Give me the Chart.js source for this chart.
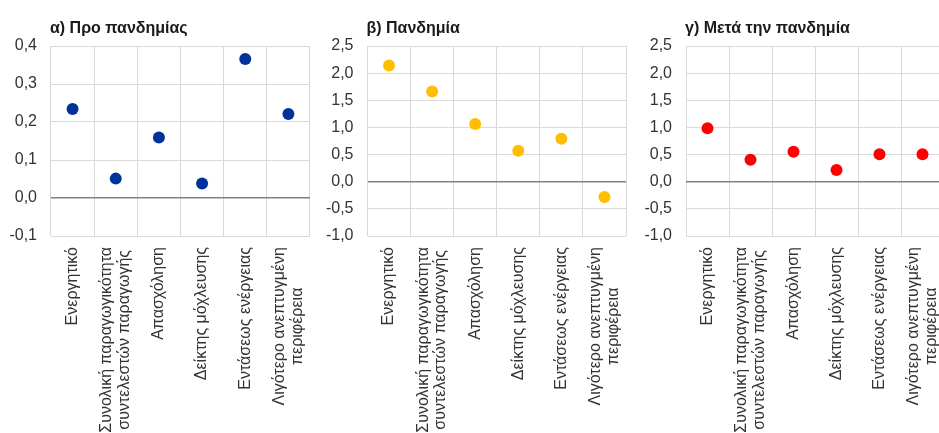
<!DOCTYPE html>
<html>
<head>
<meta charset="utf-8">
<script src="https://cdn.jsdelivr.net/npm/chart.js@4.4.1/dist/chart.umd.min.js"></script>
<style>
  html, body { margin: 0; padding: 0; background: #fff; }
  body { width: 939px; height: 433px; position: relative; overflow: hidden; }
  .panel { position: absolute; top: 0; width: 316px; height: 433px; }
</style>
</head>
<body>
<div class="panel" style="left:0px"><canvas id="pre" width="316" height="433"></canvas></div>
<div class="panel" style="left:316px"><canvas id="pan" width="316" height="433"></canvas></div>
<div class="panel" style="left:634px"><canvas id="post" width="316" height="433"></canvas></div>
<script>
const categories = [
  "Ενεργητικό",
  ["Συνολική παραγωγικότητα", "συντελεστών παραγωγής"],
  "Απασχόληση",
  "Δείκτης μόχλευσης",
  "Εντάσεως ενέργειας",
  ["Λιγότερο ανεπτυγμένη", "περιφέρεια"],
];
const prePandemic = [0.234, 0.051, 0.159, 0.038, 0.366, 0.221];
const pandemic = [2.14, 1.66, 1.065, 0.57, 0.79, -0.28];
const postPandemic = [0.985, 0.406, 0.553, 0.216, 0.505, 0.505];

const titles = ["α) Προ πανδημίας", "β) Πανδημία", "γ) Μετά την πανδημία"];
const smallRange = {min: -0.1, max: 0.4, step: 0.1};
const wideRange = {min: -1, max: 2.5, step: 0.5};

const textColor = "#333333";
const gridColor = "#d9d9d9";
const zeroColor = "#808080";
const font = "'Liberation Sans', Arial, sans-serif";
const labelSize = 16;
const labelLineHeight = 1.1;

// draws the panel title above the plot area, aligned to its left edge
const panelTitle = {
  id: "panelTitle",
  afterDraw(chart, args, opts)
  {
    const {ctx, chartArea} = chart;
    ctx.save();
    ctx.font = "bold 16px " + font;
    ctx.fillStyle = "#1a1a1a";
    ctx.textBaseline = "alphabetic";
    ctx.fillText(opts.text, chartArea.left - 1, 33);
    ctx.restore();
  }
};

// two-line category labels: centre the lines on the tick and on each other, as Excel does
const centerLabelLines = {
  id: "centerLabelLines",
  beforeDraw(chart)
  {
    const items = chart.scales.x.getLabelItems();
    if (items.split)
      return;
    const ctx = chart.ctx;
    const lh = labelSize * labelLineHeight;
    const out = [];
    for (const item of items) {
      if (!Array.isArray(item.label)) {
        out.push(item);
        continue;
      }
      ctx.save();
      ctx.font = item.font.string;
      const widths = item.label.map((t) => ctx.measureText(t).width);
      ctx.restore();
      const wmax = Math.max(...widths);
      const [x, y] = item.options.translation;
      const n = item.label.length;
      item.label.forEach((text, i) => {
        out.push({
          ...item,
          label: text,
          options: {
            ...item.options,
            translation: [x + (i - (n - 1) / 2) * lh, y + (wmax - widths[i]) / 2],
          },
        });
      });
    }
    items.length = 0;
    items.push(...out);
    items.split = true;
  }
};

function makePanel(id, title, values, color, range, axisWidth)
{
  return new Chart(document.getElementById(id), {
    type: "line",
    data: {
      labels: categories,
      datasets: [{
        data: values,
        showLine: false,
        pointRadius: 6,
        pointHoverRadius: 6,
        pointBorderWidth: 0,
        pointBackgroundColor: color,
        borderColor: color,
      }],
    },
    options: {
      responsive: false,
      animation: false,
      devicePixelRatio: 1,
      layout: {padding: {top: 46, right: 3, bottom: 0, left: 0}},
      plugins: {
        legend: {display: false},
        tooltip: {enabled: false},
        panelTitle: {text: title},
      },
      scales: {
        x: {
          offset: true,
          grid: {offset: true, color: gridColor, drawTicks: false},
          border: {display: false},
          ticks: {
            autoSkip: false,
            maxRotation: 90,
            minRotation: 90,
            padding: 11,
            color: textColor,
            font: {family: font, size: labelSize, lineHeight: labelLineHeight},
          },
          afterFit: (scale) => {
            scale.height = 197;
            scale.paddingLeft = 0;
            scale.paddingRight = 0;
          },
        },
        y: {
          min: range.min,
          max: range.max,
          grid: {
            drawTicks: false,
            color: (ctx) => Math.abs(ctx.tick.value) < 1e-9 ? zeroColor : gridColor,
            lineWidth: (ctx) => Math.abs(ctx.tick.value) < 1e-9 ? 1.5 : 1,
          },
          border: {display: false},
          ticks: {
            stepSize: range.step,
            padding: 14,
            color: textColor,
            font: {family: font, size: 16},
            callback: (v) => Number(v).toFixed(1).replace(".", ","),
          },
          afterFit: (scale) => { scale.width = axisWidth; },
        },
      },
    },
    plugins: [panelTitle, centerLabelLines],
  });
}

makePanel("pre", titles[0], prePandemic, "#003399", smallRange, 51);
makePanel("pan", titles[1], pandemic, "#ffbf00", wideRange, 51.5);
makePanel("post", titles[2], postPandemic, "#ff0000", wideRange, 52);
</script>
</body>
</html>
